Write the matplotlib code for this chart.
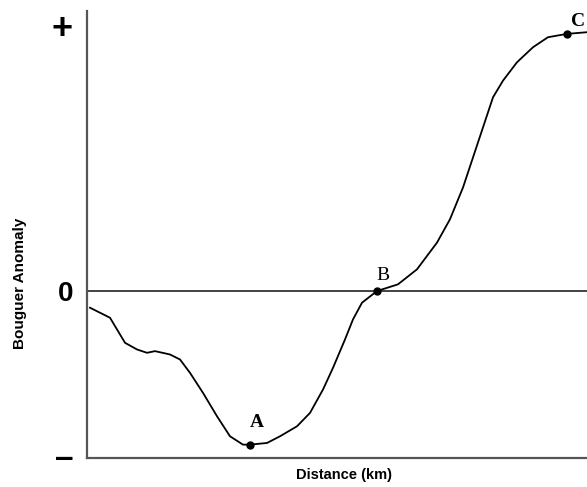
import matplotlib.pyplot as plt

# Perfil gravimétrico (unidades relativas)
distancia = [0.6, 4.6, 7.6, 10.0, 12.0, 13.6, 16.6, 18.6, 20.6, 23.2, 26.0, 28.6,
             31.2, 32.6, 36.0, 38.6, 42.0, 44.6, 47.2, 49.2, 51.6, 53.2, 55.0,
             58.0, 62.2, 66.0, 70.0, 72.6, 75.2, 77.2, 79.2, 81.2, 83.2, 86.0,
             89.2, 92.2, 96.0, 100.0]
anomalia = [-0.10, -0.16, -0.31, -0.35, -0.37, -0.36, -0.38, -0.41, -0.49, -0.61,
            -0.75, -0.87, -0.92, -0.92, -0.91, -0.87, -0.81, -0.73, -0.59, -0.46,
            -0.29, -0.17, -0.07, 0.0, 0.04, 0.13, 0.29, 0.43, 0.62, 0.80, 0.98,
            1.16, 1.26, 1.37, 1.46, 1.52, 1.54, 1.55]

pontos_nome = ['A', 'B', 'C']
pontos_x = [32.6, 58.0, 96.0]
pontos_y = [-0.92, 0.0, 1.54]
pontos_peso = ['bold', 'normal', 'bold']
pontos_offset = [(5, 16), (4, 11), (8, 9)]

marcas_y = [1.59, 0.0, -0.98]
marcas_txt = ['+', '0', '\u2013']
marcas_tam = [26, 20, 24]

fig = plt.figure(figsize=(5.87, 4.87), dpi=100)
ax = fig.add_axes([87 / 587, 29 / 487, 1 - 87 / 587, 447 / 487])

ax.plot(distancia, anomalia, color='black', lw=1.3)
ax.axhline(0, color='#222222', lw=1.2)

for nome, x, y, peso, off in zip(pontos_nome, pontos_x, pontos_y, pontos_peso, pontos_offset):
    ax.plot(x, y, 'o', color='black', ms=5)
    ax.annotate(nome, (x, y), xytext=off, textcoords='offset points',
                ha='center', va='center', fontsize=14, fontweight=peso,
                family='Liberation Serif', annotation_clip=False)

ax.set_xlim(0, 100)
ax.set_ylim(-1.0, 1.677)
ax.set_xticks([])
ax.set_yticks(marcas_y)
ax.set_yticklabels(marcas_txt, fontweight='bold', family='Liberation Sans')
for rotulo, tam in zip(ax.get_yticklabels(), marcas_tam):
    rotulo.set_fontsize(tam)
ax.tick_params(axis='y', length=0, pad=10)

for lado in ['top', 'right']:
    ax.spines[lado].set_visible(False)
for lado in ['left', 'bottom']:
    ax.spines[lado].set_color('#555555')
    ax.spines[lado].set_linewidth(1.6)

fig.text(344 / 587, 1 - 475 / 487, 'Distance (km)', ha='center', va='center',
         fontsize=10.5, fontweight='bold', family='Liberation Sans')
fig.text(20 / 587, 1 - 283 / 487, 'Bouguer Anomaly', ha='center', va='center',
         rotation=90, fontsize=11, fontweight='bold', family='Liberation Sans')

fig.savefig('out.png', dpi=100)
